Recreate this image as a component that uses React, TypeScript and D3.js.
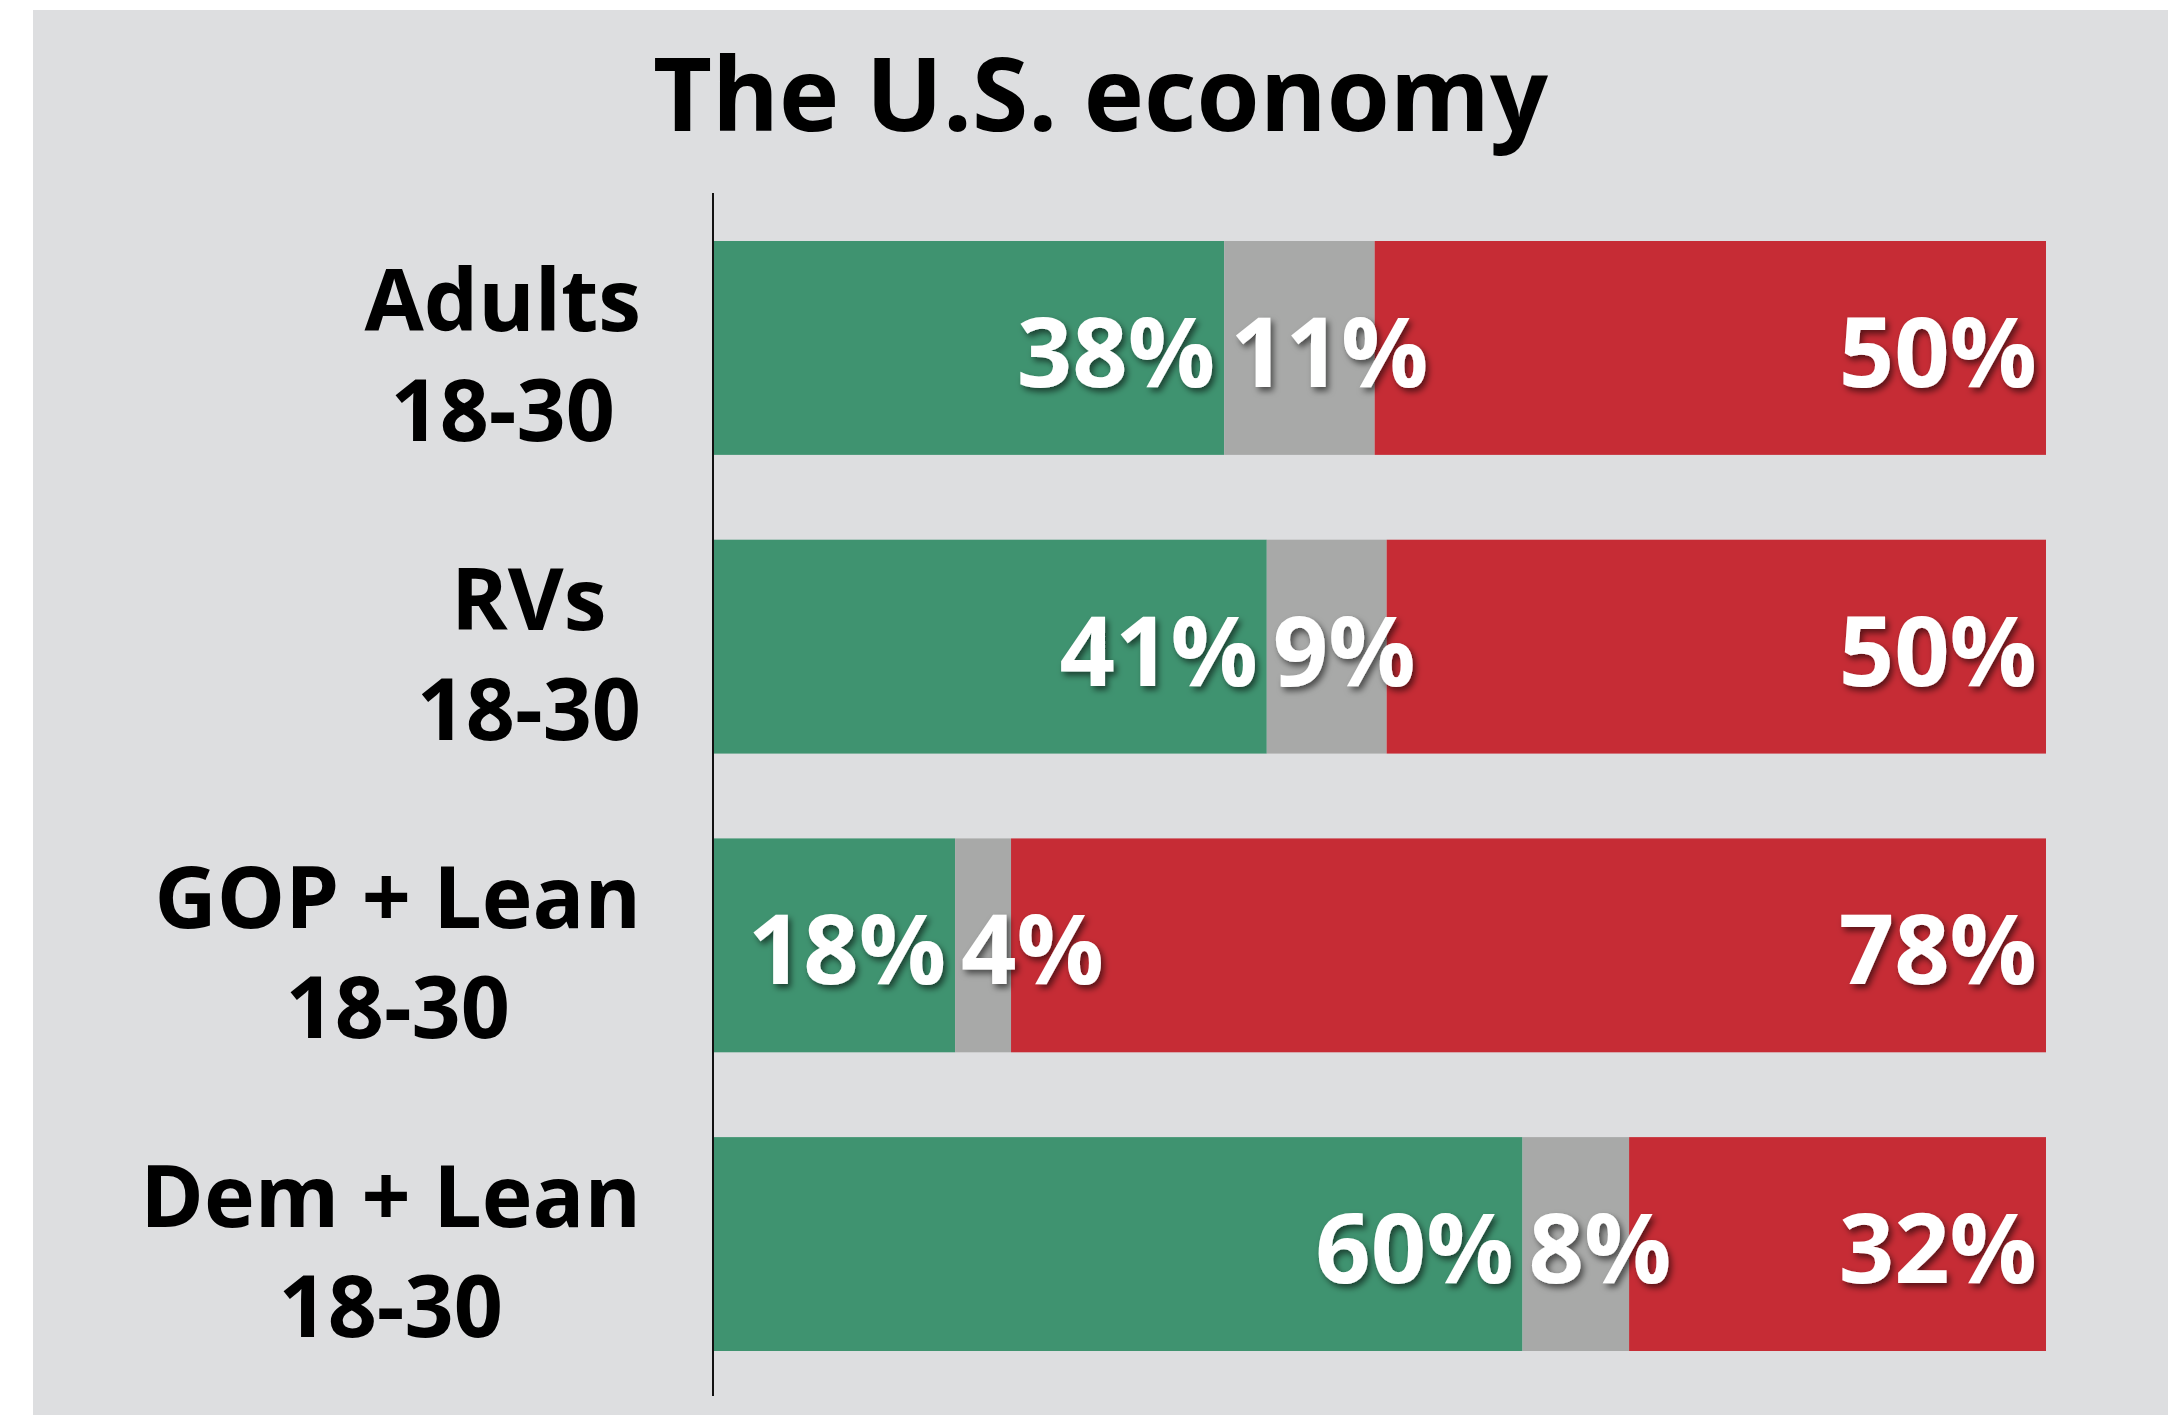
import React, { useEffect, useRef } from "react";
import * as d3 from "d3";

const title = "The U.S. economy";
const categoryLine1 = ["Adults", "RVs", "GOP + Lean", "Dem + Lean"];
const categoryLine2 = ["18-30", "18-30", "18-30", "18-30"];
// printed labels (%)
const approveLabels = [38, 41, 18, 60];
const neitherLabels = [11, 9, 4, 8];
const disapproveLabels = [50, 50, 78, 32];
// bar shares (%)
const approveShares = [38.3, 41.5, 18.1, 60.7];
const neitherShares = [11.3, 9.0, 4.2, 8.0];
const disapproveShares = [50.4, 49.5, 77.7, 31.3];

const seriesColors = ["#3F9370", "#A8A9A8", "#C62C35"];

const W = 2178;
const H = 1415;
const FONT = "'Open Sans', 'DejaVu Sans', sans-serif";

export default function App() {
  const ref = useRef<SVGSVGElement | null>(null);

  useEffect(() => {
    const svg = d3.select(ref.current);
    svg.selectAll("*").remove();

    const defs = svg.append("defs");
    const f = defs
      .append("filter")
      .attr("id", "shadow")
      .attr("x", "-20%")
      .attr("y", "-20%")
      .attr("width", "140%")
      .attr("height", "150%");
    f.append("feDropShadow")
      .attr("dx", 3)
      .attr("dy", 4)
      .attr("stdDeviation", 3)
      .attr("flood-color", "#000")
      .attr("flood-opacity", 0.55);

    // panel
    svg
      .append("rect")
      .attr("x", 33)
      .attr("y", 10)
      .attr("width", 2168 - 33)
      .attr("height", H - 10)
      .attr("fill", "#DDDEE0");

    svg
      .append("text")
      .attr("x", (33 + 2168) / 2)
      .attr("y", 131)
      .attr("text-anchor", "middle")
      .attr("font-family", FONT)
      .attr("font-weight", 700)
      .attr("font-size", 102)
      .attr("fill", "#000")
      .text(title);

    const rows = categoryLine1.map((c, i) => {
      const shares = [approveShares[i], neitherShares[i], disapproveShares[i]];
      const labels = [approveLabels[i], neitherLabels[i], disapproveLabels[i]];
      const total = d3.sum(shares);
      let acc = 0;
      const segs = shares.map((v, k) => {
        const s = { k, label: labels[k], x0: acc / total, x1: (acc + v) / total };
        acc += v;
        return s;
      });
      return { key: c, i, segs };
    });

    const x = d3.scaleLinear().domain([0, 1]).range([714, 2046]);
    const y = d3
      .scaleBand<string>()
      .domain(categoryLine1)
      .range([241, 1351])
      .paddingInner(0.284)
      .paddingOuter(0);

    const g = svg.append("g");
    rows.forEach((r) => {
      const y0 = y(r.key) as number;
      const bw = y.bandwidth();
      const cy = y0 + bw / 2;
      r.segs.forEach((s) => {
        g.append("rect")
          .attr("x", x(s.x0))
          .attr("y", y0)
          .attr("width", x(s.x1) - x(s.x0))
          .attr("height", bw)
          .attr("fill", seriesColors[s.k]);
      });
      r.segs.forEach((s) => {
        let tx: number;
        let anchor: string;
        if (s.k === 1) {
          tx = x(s.x0) + 6;
          anchor = "start";
        } else {
          tx = x(s.x1) - 9;
          anchor = "end";
        }
        g.append("text")
          .attr("x", tx)
          .attr("y", cy + 39)
          .attr("text-anchor", anchor)
          .attr("font-family", FONT)
          .attr("font-weight", 700)
          .attr("font-size", 97)
          .attr("fill", "#fff")
          .attr("filter", "url(#shadow)")
          .text(`${s.label}%`);
      });

      // category labels: centered block, right edge near the axis
      const lg = svg.append("g");
      const t1 = lg
        .append("text")
        .attr("y", cy - 17)
        .attr("text-anchor", "middle")
        .attr("font-family", FONT)
        .attr("font-weight", 700)
        .attr("font-size", 86)
        .attr("fill", "#000")
        .text(r.key);
      const t2 = lg
        .append("text")
        .attr("y", cy + 93)
        .attr("text-anchor", "middle")
        .attr("font-family", FONT)
        .attr("font-weight", 700)
        .attr("font-size", 86)
        .attr("fill", "#000")
        .text(categoryLine2[r.i]);
      const w1 = (t1.node() as SVGTextElement).getComputedTextLength();
      const w2 = (t2.node() as SVGTextElement).getComputedTextLength();
      const cx = 641 - Math.max(w1, w2) / 2;
      t1.attr("x", cx);
      t2.attr("x", cx);
    });

    // axis line
    svg
      .append("line")
      .attr("x1", 713)
      .attr("x2", 713)
      .attr("y1", 193)
      .attr("y2", 1396)
      .attr("stroke", "#111")
      .attr("stroke-width", 2);
  }, []);

  return (
    <svg
      ref={ref}
      width={W}
      height={H}
      style={{ position: "absolute", left: 0, top: 0, background: "#fff" }}
    />
  );
}
